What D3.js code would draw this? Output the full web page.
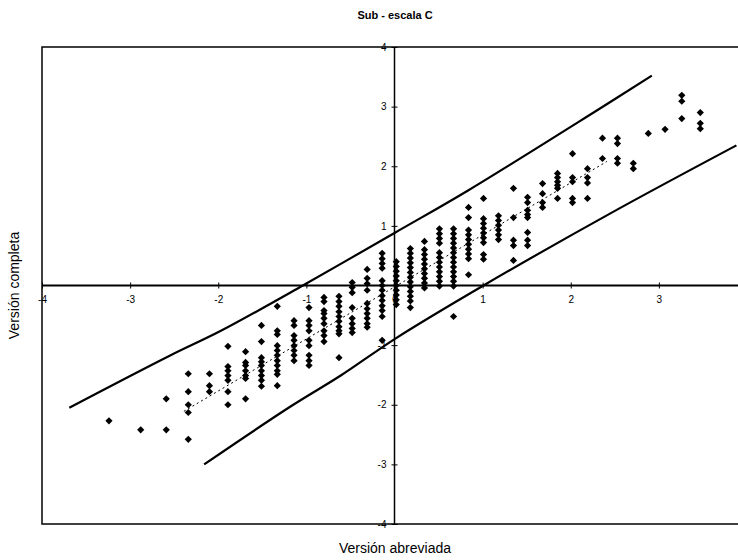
<!DOCTYPE html>
<html>
<head>
<meta charset="utf-8">
<script src="https://cdn.jsdelivr.net/npm/d3@7"></script>
<style>
  html, body { margin: 0; padding: 0; background: #fff; }
  svg { display: block; }
</style>
</head>
<body>
<svg id="chart" width="738" height="560"></svg>
<script>
// ---------- data ----------
const title = "Sub - escala C";
const xLabel = "Versión abreviada";
const yLabel = "Versión completa";
const xTicks = [-4, -3, -2, -1, 0, 1, 2, 3];
const yTicks = [-4, -3, -2, -1, 1, 2, 3, 4];

// x value of each column of points (abbreviated version score)
const colX = [-3.24,-2.88,-2.59,-2.34,-2.10,-1.89,-1.69,-1.51,-1.33,-1.14,-0.97,-0.80,-0.63,-0.48,-0.31,-0.14,0.02,0.18,0.34,0.51,0.67,0.84,1.01,1.18,1.35,1.51,1.68,1.85,2.02,2.19,2.36,2.53,2.71,2.88,3.07,3.26,3.47];
// y values (full version score) in each column
const colY = [
  [-2.27],
  [-2.42],
  [-1.90,-2.42],
  [-1.48,-1.78,-2.00,-2.13,-2.58],
  [-1.48,-1.68,-1.78],
  [-1.02,-1.36,-1.43,-1.51,-1.59,-1.78,-2.00],
  [-1.11,-1.29,-1.34,-1.43,-1.51,-1.56,-1.90],
  [-0.67,-0.94,-1.21,-1.28,-1.34,-1.43,-1.51,-1.59,-1.69],
  [-0.35,-0.76,-0.82,-1.01,-1.09,-1.17,-1.26,-1.34,-1.43,-1.49,-1.68],
  [-0.59,-0.67,-0.84,-0.92,-1.01,-1.09,-1.17,-1.26],
  [-0.37,-0.59,-0.67,-0.76,-0.92,-1.01,-1.17,-1.26,-1.34],
  [-0.20,-0.27,-0.42,-0.47,-0.55,-0.64,-0.76,-0.84,-0.94],
  [-0.18,-0.27,-0.35,-0.44,-0.52,-0.60,-0.69,-0.76,-0.81,-1.21],
  [0.05,-0.03,-0.12,-0.37,-0.55,-0.64,-0.72,-0.79],
  [0.27,0.12,0.03,-0.08,-0.30,-0.39,-0.47,-0.55,-0.64,-0.70],
  [0.54,0.45,0.37,0.29,0.08,0,-0.08,-0.17,-0.25,-0.34,-0.42,-0.52,-0.92],
  [0.40,0.32,0.24,0.16,0.08,0,-0.08,-0.16,-0.24,-0.32],
  [0.62,0.54,0.46,0.38,0.30,0.22,0.14,0.06,-0.02,-0.10,-0.18,-0.26,-0.37],
  [0.74,0.60,0.52,0.44,0.36,0.28,0.20,0.12,0.04,-0.04],
  [0.95,0.87,0.79,0.71,0.55,0.47,0.39,0.31,0.23,0.15,0.07,-0.01],
  [0.95,0.87,0.79,0.71,0.63,0.55,0.47,0.39,0.31,0.23,0.15,0.07,-0.01,-0.52],
  [1.31,1.14,0.93,0.85,0.77,0.69,0.61,0.53,0.45,0.18],
  [1.46,1.12,1.04,0.96,0.88,0.80,0.72,0.52,0.44],
  [1.17,1.09,1.01,0.93,0.85,0.77],
  [1.63,1.14,0.76,0.67,0.42],
  [1.48,1.39,1.26,1.19,1.14,0.89,0.76,0.67],
  [1.71,1.54,1.39,1.31],
  [1.88,1.81,1.74,1.68,1.63,1.46],
  [2.21,1.81,1.74,1.46,1.39],
  [1.96,1.81,1.72,1.46],
  [2.47,2.13],
  [2.47,2.38,2.13,2.05],
  [2.05,1.96],
  [2.55],
  [2.62],
  [3.19,3.09,2.80],
  [2.90,2.72,2.63]
];

// upper and lower band curves
const upperX = [-3.69,-2.54,-1.97,-1.04,0.01,0.83,2.30,2.92];
const upperY = [-2.05,-1.17,-0.76,0.00,0.89,1.59,2.94,3.52];
const lowerX = [-2.16,-1.18,-0.61,0.01,1.01,2.45,3.88];
const lowerY = [-3.00,-2.03,-1.51,-0.89,0.00,1.21,2.35];
// dotted fit line
const fitX = [-2.39, 2.41];
const fitY = [-2.11, 2.08];

// ---------- drawing ----------
const svg = d3.select("#chart");
const x = d3.scaleLinear().domain([-4, 4]).range([42, 747]);
const y = d3.scaleLinear().domain([-4, 4]).range([524, 47]);
const font = "Liberation Sans, Arial, sans-serif";
const fmt = d => String(d);

// frame
svg.append("rect")
  .attr("x", x(-4)).attr("y", y(4))
  .attr("width", x(4) - x(-4)).attr("height", y(-4) - y(4))
  .attr("fill", "none").attr("stroke", "#000").attr("stroke-width", 1.5);

// title
svg.append("text").attr("x", 395).attr("y", 19)
  .attr("text-anchor", "middle").attr("font-family", font)
  .attr("font-weight", "bold").attr("font-size", 11).text(title);

// axis titles
svg.append("text").attr("x", 395).attr("y", 553)
  .attr("text-anchor", "middle").attr("font-family", font)
  .attr("font-size", 14).text(xLabel);
svg.append("text")
  .attr("transform", `translate(19,${y(0)}) rotate(-90)`)
  .attr("text-anchor", "middle").attr("font-family", font)
  .attr("font-size", 14).text(yLabel);

// x axis through origin
const gx = svg.append("g").attr("transform", `translate(0,${y(0)})`)
  .call(d3.axisBottom(x).tickValues(xTicks).tickSize(3).tickFormat(fmt));
gx.select(".domain").remove();
gx.selectAll(".tick line").attr("y1", -3).attr("y2", 3).attr("stroke", "#000");
gx.selectAll(".tick text").attr("font-family", font).attr("font-size", 10)
  .attr("y", 10).attr("fill", "#000");
svg.append("line").attr("x1", x(-4)).attr("x2", x(4))
  .attr("y1", y(0)).attr("y2", y(0)).attr("stroke", "#000").attr("stroke-width", 2);

// y axis through origin
const gy = svg.append("g").attr("transform", `translate(${x(0)},0)`)
  .call(d3.axisLeft(y).tickValues(yTicks).tickSize(3).tickFormat(fmt));
gy.select(".domain").remove();
gy.selectAll(".tick line").attr("x1", -3).attr("x2", 3).attr("stroke", "#000");
gy.selectAll(".tick text").attr("font-family", font).attr("font-size", 10)
  .attr("x", -8).attr("fill", "#000");
svg.append("line").attr("x1", x(0)).attr("x2", x(0))
  .attr("y1", y(4)).attr("y2", y(-4)).attr("stroke", "#000").attr("stroke-width", 1.5);

// band curves
const lineGen = d3.line().x(d => x(d[0])).y(d => y(d[1])).curve(d3.curveCatmullRom);
svg.append("path").datum(upperX.map((v, i) => [v, upperY[i]]))
  .attr("d", lineGen).attr("fill", "none").attr("stroke", "#000").attr("stroke-width", 2.2);
svg.append("path").datum(lowerX.map((v, i) => [v, lowerY[i]]))
  .attr("d", lineGen).attr("fill", "none").attr("stroke", "#000").attr("stroke-width", 2.2);

// dotted fit line
svg.append("path").datum(fitX.map((v, i) => [v, fitY[i]]))
  .attr("d", d3.line().x(d => x(d[0])).y(d => y(d[1])))
  .attr("fill", "none").attr("stroke", "#000").attr("stroke-width", 1)
  .attr("stroke-dasharray", "2,3");

// points
const pts = [];
colX.forEach((cx, i) => colY[i].forEach(v => pts.push([cx, v])));
const sym = d3.symbol().type(d3.symbolSquare).size(26);
svg.append("g").selectAll("path").data(pts).join("path")
  .attr("d", sym)
  .attr("transform", d => `translate(${x(d[0])},${y(d[1])}) rotate(45)`)
  .attr("fill", "#000");
</script>
</body>
</html>
